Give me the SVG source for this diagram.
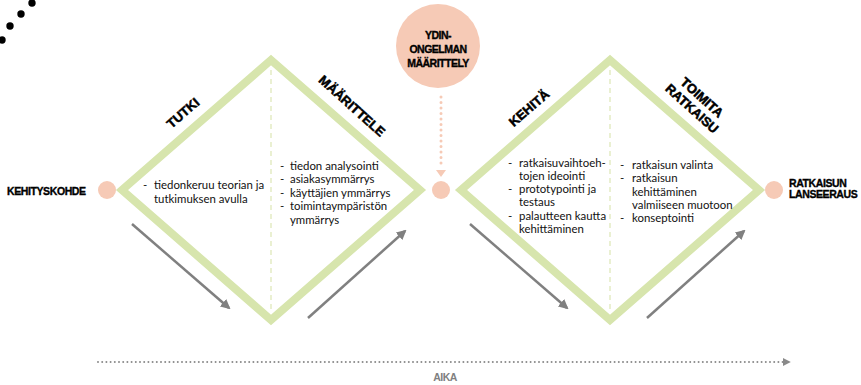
<svg xmlns="http://www.w3.org/2000/svg" width="861" height="385" viewBox="0 0 861 385">
<style>
.dia{fill:none;stroke:#d7e5ad;stroke-width:8;stroke-linejoin:miter}
.vd{stroke:#e3ebc3;stroke-width:1.5;stroke-dasharray:5,4}
.node{fill:#f6cab6}
.gar{stroke:#808080;stroke-width:2.5;fill:none}
.lbl{font-family:"Liberation Sans",Arial,sans-serif;font-weight:bold;font-size:13px;fill:#000;stroke:#000;stroke-width:0.5;text-anchor:middle}
.sm{font-family:"Liberation Sans",Arial,sans-serif;font-weight:bold;font-size:10.5px;fill:#000;stroke:#000;stroke-width:0.35}
.body{font-family:Lato,"Liberation Sans",sans-serif;font-size:11.4px;fill:#111}
</style>
<defs>
<marker id="ga" viewBox="0 0 10 10" refX="8" refY="5" markerWidth="4" markerHeight="4" orient="auto" markerUnits="strokeWidth">
<path d="M0,0 L10,5 L0,10 z" fill="#808080"/>
</marker>
<marker id="ta" viewBox="0 0 10 10" refX="9" refY="5" markerWidth="8" markerHeight="8" orient="auto" markerUnits="userSpaceOnUse">
<path d="M0,0 L10,5 L0,10 z" fill="#8a8a8a"/>
</marker>
</defs>

<g id="deco">
<circle cx="32" cy="3" r="3.7" fill="#000"/>
<circle cx="21" cy="14" r="3.7" fill="#000"/>
<circle cx="10" cy="26" r="3.7" fill="#000"/>
<circle cx="2" cy="40" r="3.7" fill="#000"/>
</g>

<g id="diamond1">
<path class="dia" d="M122,190 L271,60 L420,190 L271,320 Z"/>
<line class="vd" x1="271" y1="70" x2="271" y2="312"/>
<text class="lbl" transform="translate(183,113) rotate(-41)" y="4.5">TUTKI</text>
<text class="lbl" transform="translate(352,106) rotate(42)" y="4.5">MÄÄRITTELE</text>
<text class="body"><tspan x="143" y="189">-</tspan><tspan x="154" y="189">tiedonkeruu teorian ja</tspan><tspan x="154" y="203">tutkimuksen avulla</tspan></text>
<text class="body"><tspan x="280" y="170">-</tspan><tspan x="290" y="170">tiedon analysointi</tspan><tspan x="280" y="183">-</tspan><tspan x="290" y="183">asiakasymmärrys</tspan><tspan x="280" y="197">-</tspan><tspan x="290" y="197">käyttäjien ymmärrys</tspan><tspan x="280" y="210">-</tspan><tspan x="290" y="210">toimintaympäristön</tspan><tspan x="290" y="224">ymmärrys</tspan></text>
</g>

<g id="diamond2">
<path class="dia" d="M461,190 L610,60 L759,190 L610,320 Z"/>
<line class="vd" x1="610" y1="70" x2="610" y2="312"/>
<text class="lbl" transform="translate(529,108) rotate(-41)" y="4.5">KEHITÄ</text>
<g transform="translate(697,103) rotate(42)">
<text class="lbl" y="-3">TOIMITA</text>
<text class="lbl" y="12">RATKAISU</text>
</g>
<text class="body"><tspan x="508" y="167">-</tspan><tspan x="519" y="167">ratkaisuvaihtoeh-</tspan><tspan x="519" y="180">tojen ideointi</tspan><tspan x="508" y="193">-</tspan><tspan x="519" y="193">prototypointi ja</tspan><tspan x="519" y="206">testaus</tspan><tspan x="508" y="220">-</tspan><tspan x="519" y="220">palautteen kautta</tspan><tspan x="519" y="233">kehittäminen</tspan></text>
<text class="body"><tspan x="620" y="169">-</tspan><tspan x="632" y="169">ratkaisun valinta</tspan><tspan x="620" y="182">-</tspan><tspan x="632" y="182">ratkaisun</tspan><tspan x="632" y="196">kehittäminen</tspan><tspan x="632" y="209">valmiiseen muotoon</tspan><tspan x="620" y="222">-</tspan><tspan x="632" y="222">konseptointi</tspan></text>
</g>

<g id="start">
<circle class="node" cx="107" cy="190" r="9"/>
<text class="sm" x="7" y="195" letter-spacing="-0.4">KEHITYSKOHDE</text>
</g>

<g id="mid">
<circle class="node" cx="441" cy="190" r="9"/>
</g>

<g id="end">
<circle class="node" cx="774" cy="190" r="9"/>
<text class="sm" x="789" y="187" letter-spacing="-0.4">RATKAISUN</text>
<text class="sm" x="789" y="198" letter-spacing="-0.4">LANSEERAUS</text>
</g>

<g id="core">
<circle class="node" cx="438" cy="46" r="42"/>
<text class="sm" text-anchor="middle" font-size="12" letter-spacing="-0.5"><tspan x="438" y="39">YDIN-</tspan><tspan x="438" y="53">ONGELMAN</tspan><tspan x="438" y="67">MÄÄRITTELY</tspan></text>
</g>

<g id="connectors">
<line x1="441" y1="97" x2="441" y2="168" stroke="#f6cab6" stroke-width="3" stroke-linecap="round" stroke-dasharray="0,5.5"/>
<path d="M436,170 L446,170 L441,177 Z" fill="#f6cab6"/>
<line class="gar" x1="132" y1="224" x2="229" y2="308" marker-end="url(#ga)"/>
<line class="gar" x1="308" y1="318" x2="405" y2="231" marker-end="url(#ga)"/>
<line class="gar" x1="470" y1="224" x2="567" y2="308" marker-end="url(#ga)"/>
<line class="gar" x1="647" y1="318" x2="744" y2="231" marker-end="url(#ga)"/>
<line x1="98" y1="362" x2="790" y2="362" stroke="#8a8a8a" stroke-width="2" stroke-linecap="round" stroke-dasharray="0,4.2" marker-end="url(#ta)"/>
<text x="445" y="381" text-anchor="middle" font-family="Liberation Sans,Arial,sans-serif" font-weight="bold" font-size="10.5" fill="#808080" letter-spacing="-0.5">AIKA</text>
</g>
</svg>
